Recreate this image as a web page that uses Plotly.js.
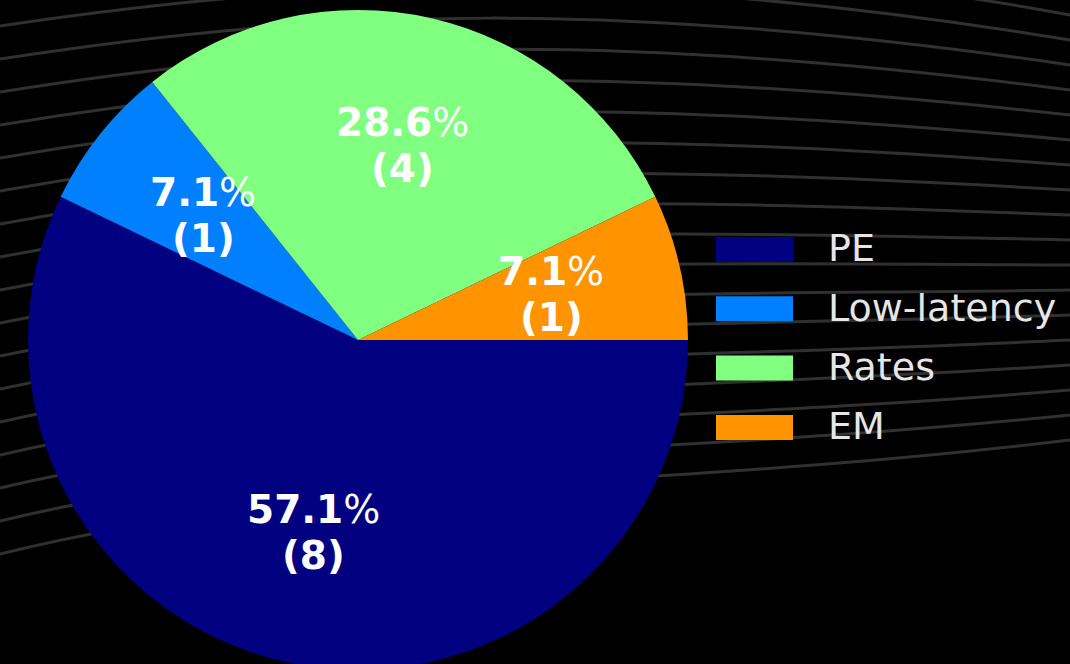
<!DOCTYPE html>
<html>
<head>
<meta charset="utf-8">
<script src="https://cdn.plot.ly/plotly-3.0.1.min.js"></script>
<style>
  html, body { margin: 0; padding: 0; background: #000; overflow: hidden; }
  #chart { width: 1070px; height: 670px; }
</style>
</head>
<body>
<div id="chart"></div>
<script>
// Desk categories and their counts
const categories = ['PE', 'Low-latency', 'Rates', 'EM'];
const counts = [8, 1, 4, 1];
const sliceColors = ['#000080', '#0080ff', '#80ff80', '#ff9400'];

const W = 1070, H = 670;
const M = { l: 0, r: 0, t: 10, b: 0 };
const plotH = H - M.t - M.b;

// pie placement in paper units
const dom = { x: [28 / W, 688 / W], y: [0, 1] };
const cx = (dom.x[0] + dom.x[1]) / 2;
const cy = (dom.y[0] + dom.y[1]) / 2;
const rPx = Math.min((dom.x[1] - dom.x[0]) * W, (dom.y[1] - dom.y[0]) * plotH) / 2;
const rx = rPx / W, ry = rPx / plotH;

const total = counts.reduce((a, b) => a + b, 0);
const labelFont = { family: 'DejaVu Sans', size: 39, color: '#ffffff', weight: 'bold' };

// percentage + count labels at 0.6 of the radius, slices run clockwise from 3 o'clock
const annotations = [];
let cum = 0;
counts.forEach((v, i) => {
  const mid = (cum + v / 2) / total * 2 * Math.PI;
  cum += v;
  const th = -mid;
  const pct = (v / total * 100).toFixed(1);
  const lx = cx + 0.6 * rx * Math.cos(th);
  const ly = cy + 0.6 * ry * Math.sin(th);
  annotations.push({
    xref: 'paper', yref: 'paper', x: lx, y: ly,
    xanchor: 'center', yanchor: 'middle', yshift: 24, showarrow: false,
    text: pct + '<span style="font-weight:normal">%</span>',
    font: labelFont
  });
  annotations.push({
    xref: 'paper', yref: 'paper', x: lx, y: ly,
    xanchor: 'center', yanchor: 'middle', yshift: -22, showarrow: false,
    text: '(' + v + ')',
    font: labelFont
  });
});

// legend built from the same categories and colours
const shapes = [];
const legX0 = 716, legX1 = 793, legH = 25, legTop = 237, legStep = 59.3;
function px2paperY(py) { return (H - M.b - py) / plotH; }
categories.forEach((c, i) => {
  const top = legTop + i * legStep;
  shapes.push({
    type: 'rect', xref: 'paper', yref: 'paper', layer: 'above',
    x0: legX0 / W, x1: legX1 / W,
    y0: px2paperY(top + legH), y1: px2paperY(top),
    fillcolor: sliceColors[i], line: { width: 0 }
  });
  annotations.push({
    xref: 'paper', yref: 'paper',
    x: 826 / W, y: px2paperY(top + legH / 2 - 1),
    xanchor: 'left', yanchor: 'middle', showarrow: false,
    text: c,
    font: { family: 'DejaVu Sans', size: 38, color: '#e6e6e6' }
  });
});

// faint flowing lines in the backdrop
const nLines = 19;
for (let i = 0; i < nLines; i++) {
  const L = -40 + i * 33;
  const R = -10 + i * 25;
  const p = [
    [0, L],
    [330, L - 45 - i * 2],
    [620, R - 90 + i * 8],
    [W, R]
  ];
  const s = p.map(q => [q[0] / W, px2paperY(q[1])]);
  shapes.push({
    type: 'path', xref: 'paper', yref: 'paper', layer: 'below',
    path: 'M' + s[0].join(',') + ' C' + s[1].join(',') + ' ' + s[2].join(',') + ' ' + s[3].join(','),
    line: { color: '#303030', width: 3 }
  });
}

const data = [{
  type: 'pie',
  labels: categories,
  values: counts,
  marker: { colors: sliceColors, line: { width: 0 } },
  sort: false,
  direction: 'clockwise',
  rotation: 90,
  textinfo: 'none',
  hoverinfo: 'label+value+percent',
  domain: dom
}];

const layout = {
  width: W, height: H,
  margin: M,
  paper_bgcolor: '#000000',
  plot_bgcolor: '#000000',
  showlegend: false,
  annotations: annotations,
  shapes: shapes
};

Plotly.newPlot('chart', data, layout, { displayModeBar: false, staticPlot: true });
</script>
</body>
</html>
